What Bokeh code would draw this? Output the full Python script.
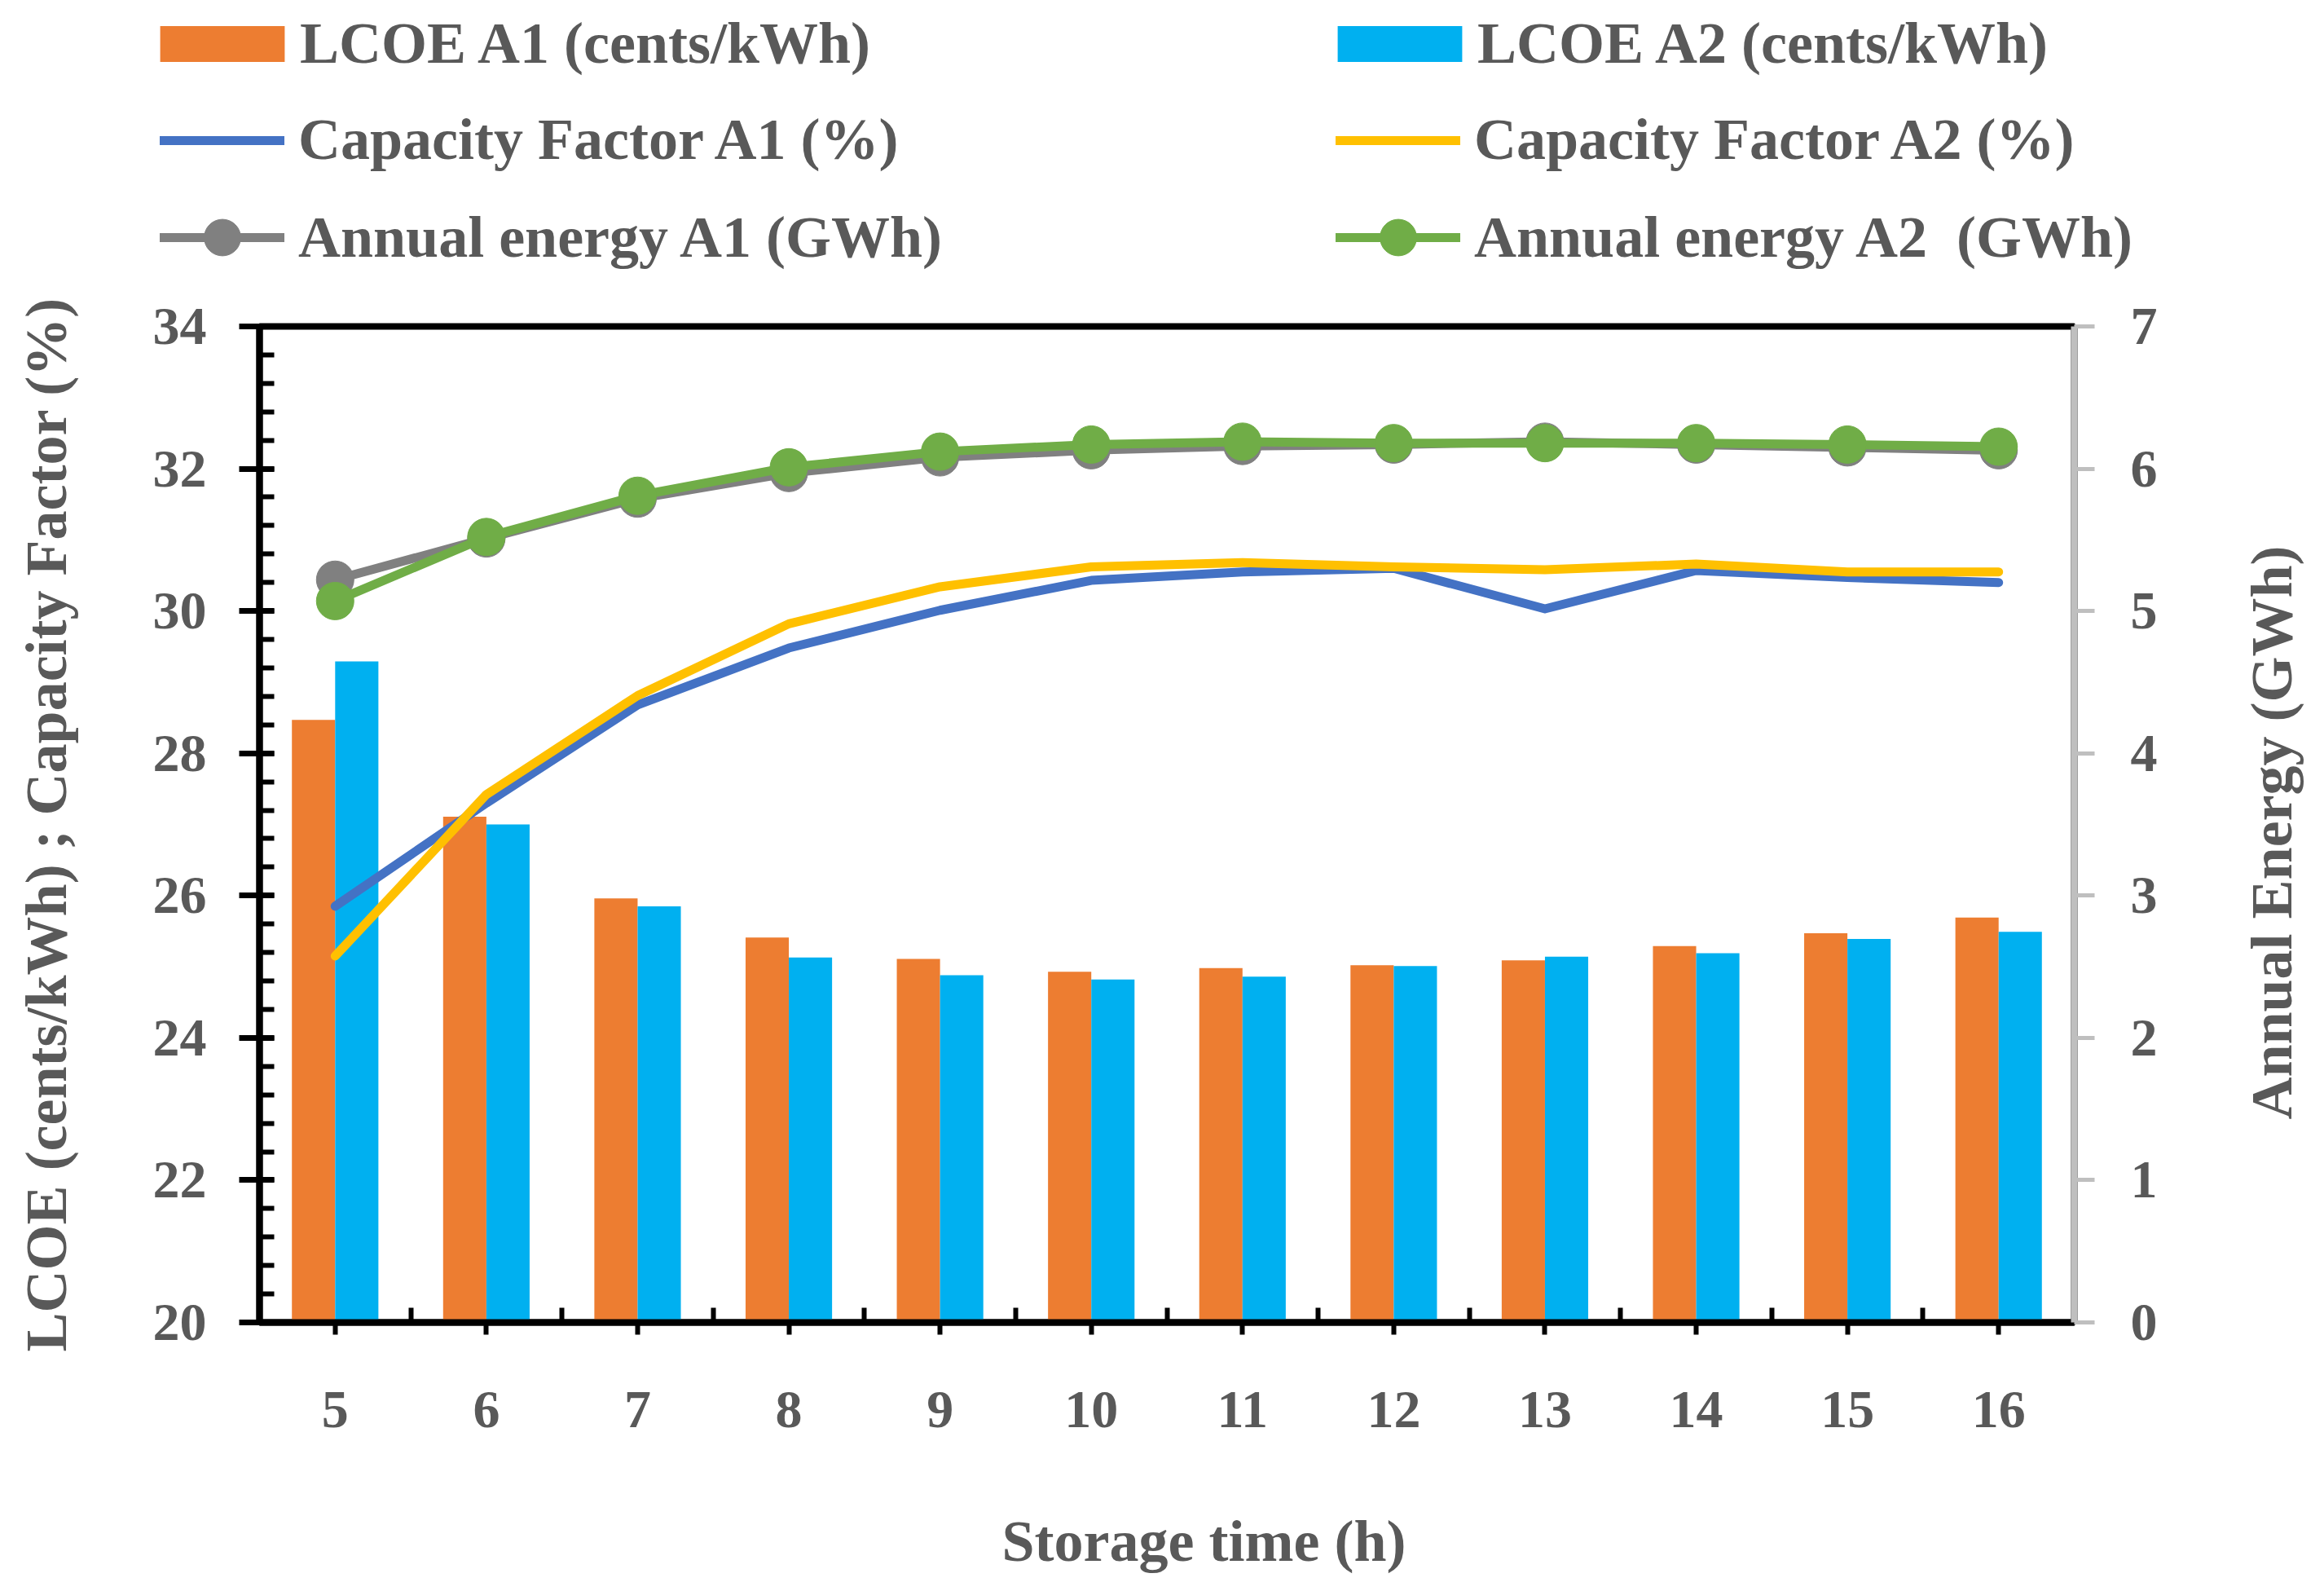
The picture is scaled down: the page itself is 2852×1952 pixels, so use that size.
import math
from bokeh.plotting import figure
from bokeh.layouts import column, row
from bokeh.models import (ColumnDataSource, Range1d, LinearAxis, SingleIntervalTicker,
                          FixedTicker, Legend, LegendItem, Label)
from bokeh.transform import dodge
from bokeh.embed import file_html
from bokeh.resources import INLINE

# ---- data ----
hours = [5, 6, 7, 8, 9, 10, 11, 12, 13, 14, 15, 16]
lcoe_a1 = [28.47, 27.11, 25.96, 25.41, 25.11, 24.93, 24.98, 25.02, 25.09, 25.29, 25.47, 25.69]
lcoe_a2 = [29.29, 27.00, 25.85, 25.13, 24.88, 24.82, 24.86, 25.01, 25.14, 25.19, 25.39, 25.49]
cf_a1 = [25.85, 27.30, 28.68, 29.48, 30.01, 30.43, 30.55, 30.60, 30.03, 30.57, 30.47, 30.40]
cf_a2 = [25.15, 27.42, 28.81, 29.82, 30.34, 30.62, 30.68, 30.62, 30.58, 30.66, 30.55, 30.55]
ae_a1 = [5.22, 5.51, 5.79, 5.97, 6.08, 6.13, 6.16, 6.17, 6.19, 6.17, 6.15, 6.13]
ae_a2 = [5.07, 5.52, 5.81, 6.01, 6.12, 6.17, 6.19, 6.18, 6.18, 6.18, 6.17, 6.155]

labels = ["LCOE A1 (cents/kWh)", "LCOE A2 (cents/kWh)",
          "Capacity Factor A1 (%)", "Capacity Factor A2 (%)",
          "Annual energy A1 (GWh)", "Annual energy A2  (GWh)"]
x_title = "Storage time (h)"
y_title = "LCOE (cents/kWh) ; Capacity Factor (%)"
y2_title = "Annual Energy (GWh)"

src = ColumnDataSource(dict(x=hours, l1=lcoe_a1, l2=lcoe_a2, c1=cf_a1, c2=cf_a2,
                            e1=ae_a1, e2=ae_a2))

FONT = "Liberation Serif"
TXT = "#595959"
C_L1, C_L2 = "#ED7D31", "#00B0F0"
C_C1, C_C2 = "#4472C4", "#FFC000"
C_E1, C_E2 = "#808080", "#70AD47"


def draw_series(fig, energy_range=None):
    kw = {} if energy_range is None else {"y_range_name": energy_range}
    r = {}
    r["b1"] = fig.vbar(x=dodge("x", -0.143), top="l1", bottom=0, width=0.286, source=src,
                       fill_color=C_L1, line_color=None)
    r["b2"] = fig.vbar(x=dodge("x", 0.143), top="l2", bottom=0, width=0.286, source=src,
                       fill_color=C_L2, line_color=None)
    r["c1"] = fig.line("x", "c1", source=src, line_color=C_C1, line_width=11,
                       line_cap="round", line_join="round")
    r["c2"] = fig.line("x", "c2", source=src, line_color=C_C2, line_width=11,
                       line_cap="round", line_join="round")
    r["e1l"] = fig.line("x", "e1", source=src, line_color=C_E1, line_width=11,
                        line_cap="round", line_join="round", **kw)
    r["e1s"] = fig.scatter("x", "e1", source=src, size=46, fill_color=C_E1,
                           line_color=C_E1, **kw)
    r["e2l"] = fig.line("x", "e2", source=src, line_color=C_E2, line_width=11,
                        line_cap="round", line_join="round", **kw)
    r["e2s"] = fig.scatter("x", "e2", source=src, size=46, fill_color=C_E2,
                           line_color=C_E2, **kw)
    return r


def blank_fig(w, h):
    f = figure(width=w, height=h, output_backend="svg", toolbar_location=None,
               x_range=Range1d(100, 101), y_range=Range1d(100, 101),
               x_axis_location=None, y_axis_location=None,
               min_border_left=0, min_border_right=0, min_border_top=0, min_border_bottom=0)
    f.xgrid.visible = False
    f.ygrid.visible = False
    f.outline_line_color = None
    return f


legend_style = dict(ncols=2, label_height=83, spacing=36, padding=0, margin=0,
                    border_line_color=None, background_fill_alpha=0,
                    label_text_font=FONT, label_text_font_style="bold",
                    label_text_font_size="72px", label_text_color=TXT)

# ---------------- legend strip (its own figure, data kept out of view) -------------
lf = blank_fig(2836, 350)
lr = draw_series(lf)
leg_bar = Legend(items=[
    LegendItem(label=labels[0], renderers=[lr["b1"]]),
    LegendItem(label=labels[1], renderers=[lr["b2"]]),
], location=(177, 255), glyph_width=191, glyph_height=55, label_standoff=-2,
    label_width=1218, **legend_style)
leg_line = Legend(items=[
    LegendItem(label=labels[2], renderers=[lr["c1"]]),
    LegendItem(label=labels[3], renderers=[lr["c2"]]),
], location=(196, 137), glyph_width=153, glyph_height=44, label_standoff=17,
    label_width=1237, **legend_style)
leg_en = Legend(items=[
    LegendItem(label=labels[4], renderers=[lr["e1l"], lr["e1s"]]),
    LegendItem(label=labels[5], renderers=[lr["e2l"], lr["e2s"]]),
], location=(196, 3), glyph_width=153, glyph_height=112, label_standoff=17,
    label_width=1237, **legend_style)
for lg in (leg_bar, leg_line, leg_en):
    lf.add_layout(lg, "center")

# ---------------- main chart ----------------
p = figure(width=2740, height=1422, output_backend="svg", toolbar_location=None,
           x_range=Range1d(4.5, 16.5), y_range=Range1d(20, 34),
           min_border_left=318, min_border_right=195, min_border_top=50,
           min_border_bottom=150, y_axis_label=y_title)
p.extra_y_ranges = {"energy": Range1d(0, 7)}
p.xgrid.visible = False
p.ygrid.visible = False
p.outline_line_color = "black"
p.outline_line_width = 8
draw_series(p, "energy")

# x axis
xa = p.xaxis[0]
xa.ticker = FixedTicker(ticks=hours, minor_ticks=[h - 0.5 for h in hours] + [hours[-1] + 0.5])
xa.axis_line_color = "black"
xa.axis_line_width = 8
xa.major_tick_line_color = "black"
xa.major_tick_line_width = 6
xa.major_tick_out = 15
xa.major_tick_in = 0
xa.minor_tick_line_color = "black"
xa.minor_tick_line_width = 6
xa.minor_tick_in = 18
xa.minor_tick_out = 0
xa.major_label_standoff = 70

# left axis
ya = p.yaxis[0]
ya.ticker = SingleIntervalTicker(interval=2, num_minor_ticks=5)
ya.axis_line_color = "black"
ya.axis_line_width = 8
ya.major_tick_line_color = "black"
ya.major_tick_line_width = 7
ya.major_tick_out = 25
ya.major_tick_in = 18
ya.minor_tick_line_color = "black"
ya.minor_tick_line_width = 6
ya.minor_tick_in = 18
ya.minor_tick_out = 0
ya.major_label_standoff = 40
ya.axis_label_standoff = 88

# right axis (title drawn in the strip to its right, reading upwards)
ra = LinearAxis(y_range_name="energy",
                ticker=SingleIntervalTicker(interval=1, num_minor_ticks=0))
ra.axis_line_color = "#BFBFBF"
ra.axis_line_width = 8
ra.major_tick_line_color = "#BFBFBF"
ra.major_tick_line_width = 5
ra.major_tick_out = 25
ra.major_tick_in = 0
ra.minor_tick_line_color = None
ra.major_label_standoff = 44
p.add_layout(ra, "right")

for ax in (xa, ya, ra):
    ax.major_label_text_font = FONT
    ax.major_label_text_font_style = "bold"
    ax.major_label_text_font_size = "66px"
    ax.major_label_text_color = TXT
    ax.axis_label_text_font = FONT
    ax.axis_label_text_font_style = "bold"
    ax.axis_label_text_font_size = "72px"
    ax.axis_label_text_color = TXT

title_style = dict(x_units="screen", y_units="screen", text_align="center",
                   text_baseline="middle", text_font=FONT, text_font_style="bold",
                   text_font_size="72px", text_color=TXT)

rf = blank_fig(96, 1422)
rf.add_layout(Label(x=47, y=751, text=y2_title, angle=math.pi / 2, **title_style))

bf = blank_fig(2836, 164)
bf.add_layout(Label(x=1477, y=46, text=x_title, **title_style))

for f in (lf, p, rf, bf):
    if "frame_align" in f.properties():
        f.frame_align = False

layout = column(lf, row(p, rf, spacing=0), bf, spacing=0)
open("out.html", "w").write(file_html(layout, INLINE))
